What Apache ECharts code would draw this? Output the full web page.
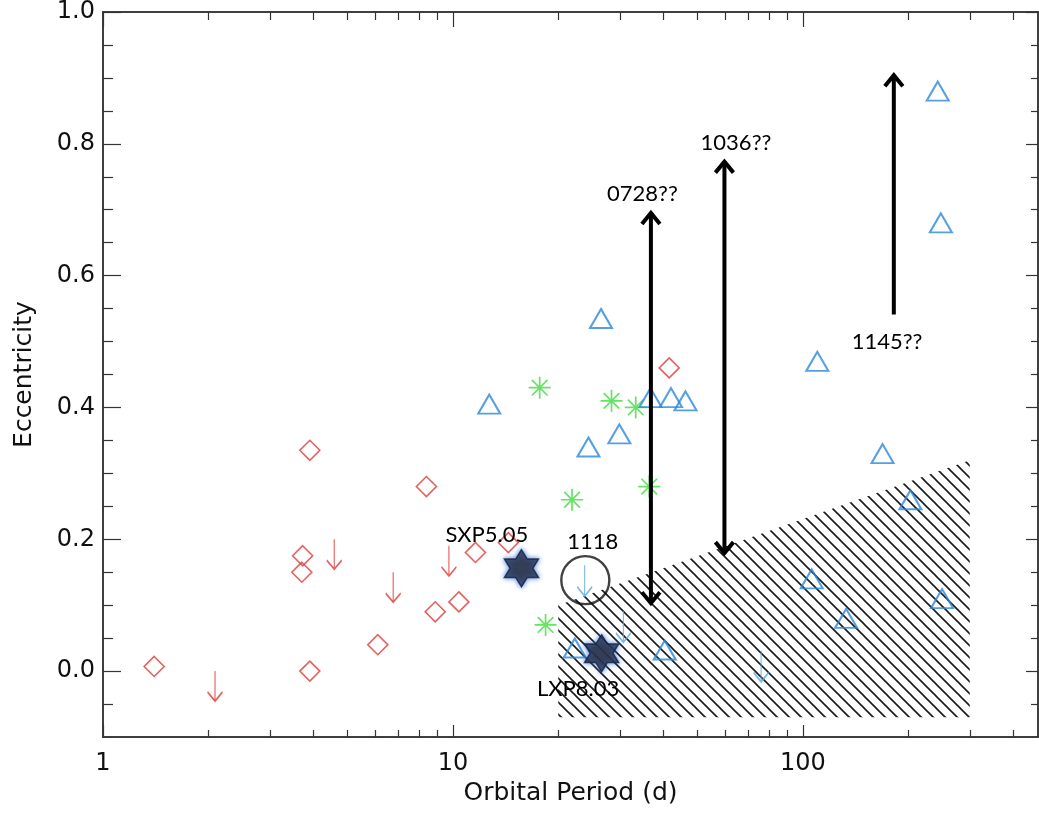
<!DOCTYPE html>
<html>
<head>
<meta charset="utf-8">
<script src="https://cdn.jsdelivr.net/npm/echarts@6/dist/echarts.min.js"></script>
<style>
html,body{margin:0;padding:0;background:#fff;}
#chart_ecc{width:1039px;height:816px;}
</style>
</head>
<body>
<div id="chart_ecc"></div>
<script>
// period (d) / eccentricity
var redDiamonds = [[1.4,0.007],[3.9,0.335],[3.72,0.175],[3.7,0.15],[3.9,0.0],[6.1,0.04],[8.4,0.28],[8.9,0.09],[10.4,0.105],[11.6,0.18],[14.4,0.195],[41.5,0.46]];
var redLimits = [[2.09,0.0],[4.58,0.2],[6.75,0.15],[9.74,0.19]];
var greenStars = [[17.7,0.43],[28.4,0.41],[33.3,0.40],[36.4,0.28],[21.9,0.26],[18.4,0.07]];
var blueTriangles = [[12.7,0.405],[26.5,0.535],[29.9,0.36],[24.4,0.34],[36.7,0.415],[42,0.415],[46.2,0.41],[243,0.88],[248,0.68],[110,0.47],[169,0.33],[203,0.26],[106,0.14],[133,0.08],[250,0.11],[22.3,0.035],[40.3,0.032]];
var blueLimits = [[23.8,0.16],[30.7,0.09],[76,0.03]];
var newSystems = [[15.7,0.156],[26.6,0.027]];
var circled = [[23.9,0.138]];
// [period, low e, high e, arrow at both ends]
var rangeArrows = [[36.8,0.103,0.695,1],[59.7,0.179,0.773,1],[182,0.541,0.904,0]];
var hatchZone = [[20,-0.07],[20,0.1],[300,0.32],[300,-0.07]];
var notes = [['SXP5.05',12.5,0.206],['1118',25.1,0.196],['LXP8.03',22.8,-0.027],['0728??',34.8,0.724],['1036??',64.4,0.801],['1145??',174,0.499]];
var xMajor = [1,10,100];
var xMinor = [2,3,4,5,6,7,8,9,20,30,40,50,60,70,80,90,200,300,400];
var yMajor = [0,0.2,0.4,0.6,0.8,1.0];
var yMinor = [-0.05,0.05,0.1,0.15,0.25,0.3,0.35,0.45,0.5,0.55,0.65,0.7,0.75,0.85,0.9,0.95];

var axisFont = 'DejaVu Sans';
var noteFont = 'Lato';

// hatch tile
var hatchTile = document.createElement('canvas');
hatchTile.width = 12; hatchTile.height = 12;
!function(){
    var c = hatchTile.getContext('2d');
    c.strokeStyle = '#1a1a1a';
    c.lineWidth = 1.6;
    [-12,0,12].forEach(function(k){
        c.beginPath();
        c.moveTo(-2, -2 + k);
        c.lineTo(14, 14 + k);
        c.stroke();
    });
}();

function xAx(pos, ticks, len, withLabel){
    return {
        type:'log', logBase:10, min:1, max:470, position:pos,
        axisLine:{show:true, onZero:false, lineStyle:{color:'#333', width:1.5}},
        axisTick:{show:true, inside:true, length:len, customValues:ticks, lineStyle:{color:'#333', width:1.2}},
        axisLabel:{show:withLabel, customValues:ticks, margin:15, fontFamily:axisFont, fontSize:24, color:'#111'},
        splitLine:{show:false}
    };
}
function yAx(pos, ticks, len, withLabel){
    return {
        type:'value', min:-0.1, max:1.0, position:pos,
        axisLine:{show:true, onZero:false, lineStyle:{color:'#333', width:1.5}},
        axisTick:{show:true, inside:true, length:len, customValues:ticks, lineStyle:{color:'#333', width:1.2}},
        axisLabel:{show:withLabel, customValues:ticks, margin:8, fontFamily:axisFont, fontSize:24, color:'#111',
            formatter:function(v){ return v.toFixed(1); }},
        splitLine:{show:false}
    };
}

var xAxes = [xAx('bottom', xMajor, 12, true), xAx('bottom', xMinor, 7, false), xAx('top', xMajor, 15, false), xAx('top', xMinor, 8, false)];
xAxes[0].name = 'Orbital Period (d)';
xAxes[0].nameLocation = 'middle';
xAxes[0].nameGap = 41;
xAxes[0].nameTextStyle = {fontFamily:axisFont, fontSize:25, color:'#111'};
var yAxes = [yAx('left', yMajor, 18, true), yAx('left', yMinor, 10, false), yAx('right', yMajor, 12, false), yAx('right', yMinor, 7, false)];
yAxes[0].name = 'Eccentricity';
yAxes[0].nameLocation = 'middle';
yAxes[0].nameGap = 66;
yAxes[0].nameTextStyle = {fontFamily:axisFont, fontSize:25, color:'#111'};

var hollow = function(col, w){ return {color:'rgba(0,0,0,0)', borderColor:col, borderWidth:w}; };
var downArrow = 'path://M8,0L8,30M1,21L8,30L15,21';
var asterisk = 'path://M0,10L20,10M10,0L10,20M2.9,2.9L17.1,17.1M17.1,2.9L2.9,17.1';
var hexagram = 'path://M10,0L12.887,5L18.66,5L15.774,10L18.66,15L12.887,15L10,20L7.113,15L1.34,15L4.226,10L1.34,5L7.113,5Z';

var Echarts = echarts.init(document.getElementById('chart_ecc'));
var option = {
    animation:false,
    backgroundColor:'#fff',
    grid:{left:103, right:1, top:8, bottom:79},
    xAxis:xAxes,
    yAxis:yAxes,
    series:[
        {
            //hatched region
            type:'custom', data:hatchZone, z:1,
            renderItem:function(params, api){
                if(params.dataIndex !== 0) return null;
                var pts = hatchZone.map(function(d){ return api.coord(d); });
                return {type:'polygon', shape:{points:pts}, style:{fill:{image:hatchTile, repeat:'repeat'}, stroke:null}};
            }
        },
        {type:'scatter', data:redDiamonds, symbol:'diamond', symbolSize:[20,20], itemStyle:hollow('#dd3a35',1.6), z:3},
        {type:'scatter', data:redLimits, symbol:downArrow, symbolSize:[15,30], symbolOffset:[0,15], itemStyle:hollow('#dd3a35',1.6), z:3},
        {type:'scatter', data:greenStars, symbol:asterisk, symbolSize:[22,22], itemStyle:hollow('#3fdc3f',1.7), z:3},
        {type:'scatter', data:blueTriangles, symbol:'triangle', symbolSize:[22,19], itemStyle:hollow('#2c87dc',2), z:3},
        {type:'scatter', data:blueLimits, symbol:downArrow, symbolSize:[15,31], symbolOffset:[0,15], itemStyle:hollow('#5aa8e6',1.6), z:3},
        {type:'scatter', data:circled, symbol:'circle', symbolSize:48, itemStyle:hollow('#111',2.4), z:4},
        {type:'scatter', data:newSystems, symbol:hexagram, symbolSize:[34,37], z:5,
            itemStyle:{color:'#2b2b35', borderColor:'#13203d', borderWidth:1.5, shadowBlur:5, shadowColor:'rgba(30,95,210,0.9)'}},
        {
            //range arrows
            type:'custom', data:rangeArrows, z:6,
            renderItem:function(params, api){
                var x = api.value(0);
                var p0 = api.coord([x, api.value(1)]);
                var p1 = api.coord([x, api.value(2)]);
                var hw = 9, hh = 11;
                var st = {stroke:'#000', lineWidth:4, fill:null, lineJoin:'miter'};
                var kids = [
                    {type:'line', shape:{x1:p0[0], y1:p0[1], x2:p1[0], y2:p1[1]}, style:st},
                    {type:'polyline', shape:{points:[[p1[0]-hw,p1[1]+hh],[p1[0],p1[1]],[p1[0]+hw,p1[1]+hh]]}, style:st}
                ];
                if(api.value(3)){
                    kids.push({type:'polyline', shape:{points:[[p0[0]-hw,p0[1]-hh],[p0[0],p0[1]],[p0[0]+hw,p0[1]-hh]]}, style:st});
                }
                return {type:'group', children:kids};
            }
        },
        {
            //labels
            type:'custom', data:notes.map(function(n){ return [n[1], n[2]]; }), z:7,
            renderItem:function(params, api){
                var p = api.coord([api.value(0), api.value(1)]);
                return {type:'text', style:{x:p[0], y:p[1], text:notes[params.dataIndex][0], fontFamily:noteFont, fontSize:22, fill:'#000', align:'center', verticalAlign:'middle'}};
            }
        }
    ]
};
Echarts.setOption(option);
</script>
</body>
</html>
